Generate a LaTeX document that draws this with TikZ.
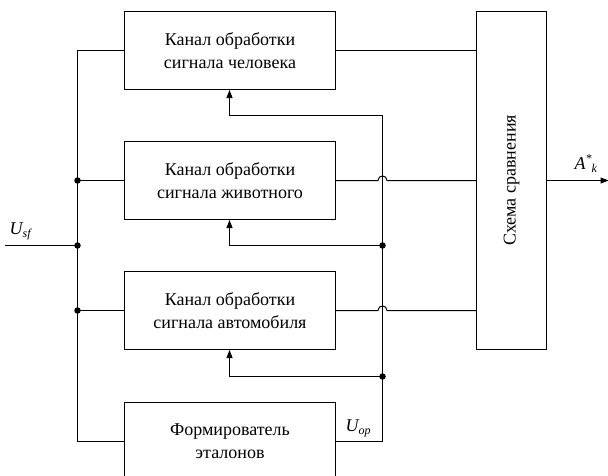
\documentclass[tikz,border=0pt]{standalone}
\usepackage{fontspec}
\setmainfont{Liberation Serif}
\usetikzlibrary{arrows.meta}
\tikzset{
  blk/.style={draw, line width=1pt, minimum width=211pt, minimum height=78pt, align=center, inner sep=0pt, font=\fontsize{18}{23}\selectfont},
  wire/.style={line width=1pt},
  arr/.style={wire, -{Triangle[length=8pt,width=6pt]}},
  dot/.style={circle, fill=black, inner sep=0pt, minimum size=6.5pt},
  lbl/.style={font=\fontsize{18}{22}\selectfont\itshape, inner sep=0pt}
}
\begin{document}
\begin{tikzpicture}[x=1pt,y=-1pt]
\useasboundingbox (-0.5,-0.5) rectangle (607.5,474.5);
\clip (-0.5,-0.5) rectangle (607.5,474.5);
% blocks
\node[blk] (c1) at (229.5,50) {Канал обработки\\сигнала человека};
\node[blk] (c2) at (229.5,180) {Канал обработки\\сигнала животного};
\node[blk] (c3) at (229.5,310) {Канал обработки\\сигнала автомобиля};
\node[blk] (f) at (229.5,441) {Формирователь\\эталонов};
\node[blk, minimum width=70pt, minimum height=338pt] (s) at (511,180) {};
\node[rotate=90, font=\fontsize{18}{22}\selectfont, inner sep=0pt] (st) at (s.center) {Схема сравнения};
% left bus
\coordinate (lt) at (77,50);
\coordinate (lb) at (77,441);
\node[dot] (d1) at (77,180) {};
\node[dot] (d2) at (77,245) {};
\node[dot] (d3) at (77,310) {};
\coordinate (in) at (5,245);
\draw[wire] (c1.west) -- (lt) -- (lb) -- (f.west);
\draw[wire] (d1.center) -- (c2.west);
\draw[wire] (d3.center) -- (c3.west);
\draw[wire] (in) -- (d2.center);
\node[lbl, anchor=base west] (usf) at (9,234) {U\raisebox{-0.35ex}{\fontsize{12}{12}\selectfont sf}};
% right bus
\coordinate (rt) at (382,115);
\coordinate (rb) at (382,441);
\node[dot] (e1) at (382,245) {};
\node[dot] (e2) at (382,376) {};
\draw[wire] (f.east) -- (rb) -- (rt);
\draw[arr] (rt) -- (229,115) -- (229,89.5);
\draw[arr] (e1.center) -- (229,245) -- (229,219.5);
\draw[arr] (e2.center) -- (229,376) -- (229,349.5);
\node[lbl, anchor=base west] (uop) at (345,431) {U\raisebox{-0.35ex}{\fontsize{12}{12}\selectfont op}};
% outputs
\draw[wire] (c1.east) -- (c1.east -| s.west);
\coordinate (h2a) at (377.5,180);
\coordinate (h2b) at (386.5,180);
\draw[wire] (c2.east) -- (h2a) .. controls (377.5,174) and (386.5,174) .. (h2b) -- (c2.east -| s.west);
\coordinate (h3a) at (377.5,310);
\coordinate (h3b) at (386.5,310);
\draw[wire] (c3.east) -- (h3a) .. controls (377.5,304) and (386.5,304) .. (h3b) -- (c3.east -| s.west);
\coordinate (out) at (608,180);
\draw[arr] (s.east |- out) -- (out);
\node[lbl, anchor=base west] (ak) at (574,169) {A\raisebox{0.9ex}{\fontsize{12}{12}\selectfont *}\raisebox{-0.35ex}{\fontsize{12}{12}\selectfont k}};
\end{tikzpicture}
\end{document}
